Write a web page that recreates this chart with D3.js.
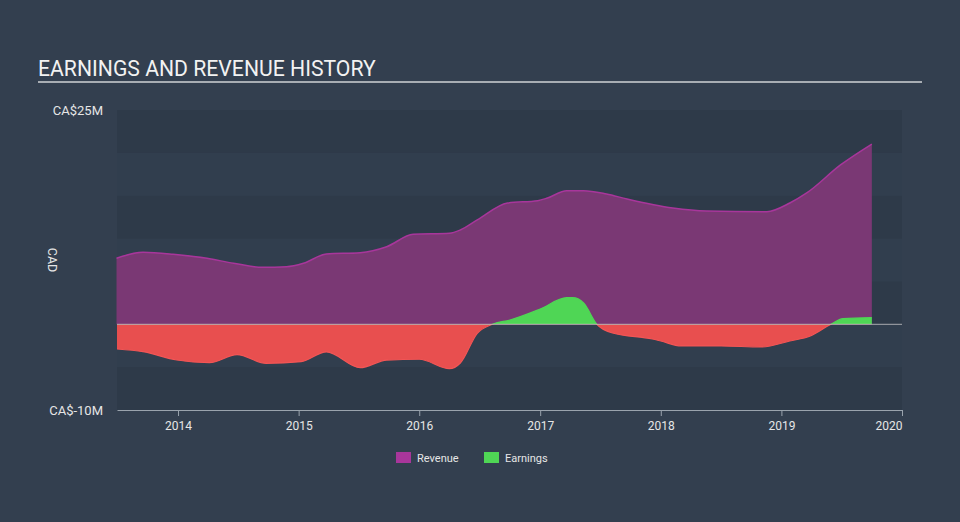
<!DOCTYPE html>
<html><head><meta charset="utf-8">
<script src="https://cdn.jsdelivr.net/npm/d3@7"></script>
<style>
html,body{margin:0;padding:0;background:#333f4f;}
svg{display:block;font-family:Roboto,"Open Sans",sans-serif;}
</style></head>
<body>
<svg id="chart" width="960" height="522"></svg>
<script>
// Data (decimal years, CAD millions)
const revenueYears = [2013.49,2013.71,2013.96,2014.24,2014.46,2014.70,2014.90,2015.04,2015.23,2015.51,2015.73,2015.95,2016.25,2016.34,2016.48,2016.73,2016.98,2017.06,2017.22,2017.36,2017.55,2017.72,2018.10,2018.38,2018.88,2019.07,2019.21,2019.49,2019.75];
const revenueValues = [7.70,8.40,8.17,7.70,7.12,6.65,6.72,7.12,8.20,8.35,9.05,10.50,10.62,11.0,12.17,14.15,14.42,14.73,15.59,15.59,15.20,14.62,13.57,13.22,13.14,14.15,15.32,18.59,21.03];
const earningsYears = [2013.49,2013.71,2013.99,2014.26,2014.49,2014.73,2015.02,2015.23,2015.51,2015.73,2016.0,2016.25,2016.34,2016.48,2016.61,2016.75,2017.0,2017.22,2017.27,2017.36,2017.47,2017.60,2017.93,2018.0,2018.17,2018.50,2018.83,2019.07,2019.24,2019.41,2019.51,2019.75];
const earningsValues = [-2.88,-3.20,-4.17,-4.48,-3.55,-4.55,-4.36,-3.23,-5.06,-4.17,-4.08,-5.18,-4.52,-1.05,0.03,0.50,1.78,3.10,3.10,2.48,0,-1.02,-1.72,-1.95,-2.53,-2.53,-2.65,-1.95,-1.37,0,0.65,0.77];
const yTickValues = [25,-10];
const yTickLabels = ["CA$25M","CA$-10M"];
const xTickYears = [2014,2015,2016,2017,2018,2019,2020];
const legendNames = ["Revenue","Earnings"];
const legendColors = ["#a8369b","#4fd655"];

function toDate(y){
  const yr = Math.floor(y);
  const start = new Date(yr,0,1), end = new Date(yr+1,0,1);
  return new Date(start.getTime() + (y-yr)*(end-start));
}
const revenue = revenueYears.map((y,i)=>({date:toDate(y),v:revenueValues[i]}));
const earnings = earningsYears.map((y,i)=>({date:toDate(y),v:earningsValues[i]}));

const svg = d3.select("#chart");
const L=117, R=902, T=110, B=410;
const x = d3.scaleTime().domain([toDate(2013.494), new Date(2020,0,1)]).range([L,R]);
const y = d3.scaleLinear().domain([-10,25]).range([B,T]);

// Title
svg.append("text").attr("x",38).attr("y",76).attr("fill","#f2f2f2")
  .attr("font-size",21.2).text("EARNINGS AND REVENUE HISTORY");
svg.append("rect").attr("x",38).attr("y",81).attr("width",884).attr("height",2).attr("fill","#a8adb3");

// Bands
const bandEdges = d3.range(-10,25,5);
bandEdges.forEach((v,i)=>{
  svg.append("rect").attr("x",L).attr("width",R-L)
    .attr("y",y(v+5)).attr("height",y(v)-y(v+5))
    .attr("fill", i%2===0 ? "#2e3a49" : "#313e4e");
});

// Y labels
yTickValues.forEach((v,i)=>{
  svg.append("text").attr("x",103).attr("y",y(v)+4.5).attr("text-anchor","end")
    .attr("fill","#e6e6e6").attr("font-size",13).text(yTickLabels[i]);
});
svg.append("text").attr("transform","translate(48,260) rotate(90)")
  .attr("text-anchor","middle").attr("fill","#e6e6e6").attr("font-size",12.5).text("CAD");

// Revenue area
const curve = d3.curveMonotoneX;
const revArea = d3.area().x(d=>x(d.date)).y0(y(0)).y1(d=>y(d.v)).curve(curve);
const revLine = d3.line().x(d=>x(d.date)).y(d=>y(d.v)).curve(curve);
svg.append("path").datum(revenue).attr("d",revArea).attr("fill","#7a3874");
svg.append("path").datum(revenue).attr("d",revLine).attr("fill","none").attr("stroke","#a8369b").attr("stroke-width",1.5);

// Earnings area with clip
const defs = svg.append("defs");
defs.append("clipPath").attr("id","pos").append("rect").attr("x",L).attr("y",T-5).attr("width",R-L).attr("height",y(0)-T+5);
defs.append("clipPath").attr("id","neg").append("rect").attr("x",L).attr("y",y(0)).attr("width",R-L).attr("height",B-y(0));
const eArea = d3.area().x(d=>x(d.date)).y0(y(0)).y1(d=>y(d.v)).curve(curve);
const eLine = d3.line().x(d=>x(d.date)).y(d=>y(d.v)).curve(curve);
svg.append("path").datum(earnings).attr("d",eArea).attr("fill","#4fd655").attr("clip-path","url(#pos)");
svg.append("path").datum(earnings).attr("d",eArea).attr("fill","#e84f4f").attr("clip-path","url(#neg)");
svg.append("path").datum(earnings).attr("d",eLine).attr("fill","none").attr("stroke","#4fd655").attr("stroke-width",1.2).attr("clip-path","url(#pos)");
svg.append("path").datum(earnings).attr("d",eLine).attr("fill","none").attr("stroke","#f25555").attr("stroke-width",1.2).attr("clip-path","url(#neg)");

// Zero line
svg.append("line").attr("x1",L).attr("x2",R).attr("y1",y(0)).attr("y2",y(0))
  .attr("stroke","#d0d0d0").attr("stroke-opacity",0.6).attr("stroke-width",1.2);

// X axis
const xAxis = d3.axisBottom(x).tickValues(xTickYears.map(yr=>new Date(yr,0,1)))
  .tickFormat(d3.timeFormat("%Y")).tickSize(6).tickSizeOuter(0);
const gx = svg.append("g").attr("transform",`translate(0,${B})`).call(xAxis);
gx.select(".domain").attr("stroke","#9aa3ad");
gx.selectAll(".tick line").attr("stroke","#9aa3ad");
gx.selectAll(".tick text").attr("fill","#e6e6e6").attr("font-size",12).attr("dy","0.9em")
  .attr("font-family","Roboto, sans-serif");
gx.selectAll(".tick text").filter((d,i,n)=>i===n.length-1).attr("text-anchor","end");

// Legend
const lg = svg.append("g");
const lx = [396,484];
legendNames.forEach((n,i)=>{
  lg.append("rect").attr("x",lx[i]).attr("y",452).attr("width",15).attr("height",11).attr("fill",legendColors[i]);
  lg.append("text").attr("x",lx[i]+21).attr("y",462).attr("fill","#e6e6e6").attr("font-size",11)
    .attr("font-family","Roboto, sans-serif").text(n);
});
</script>
</body></html>
